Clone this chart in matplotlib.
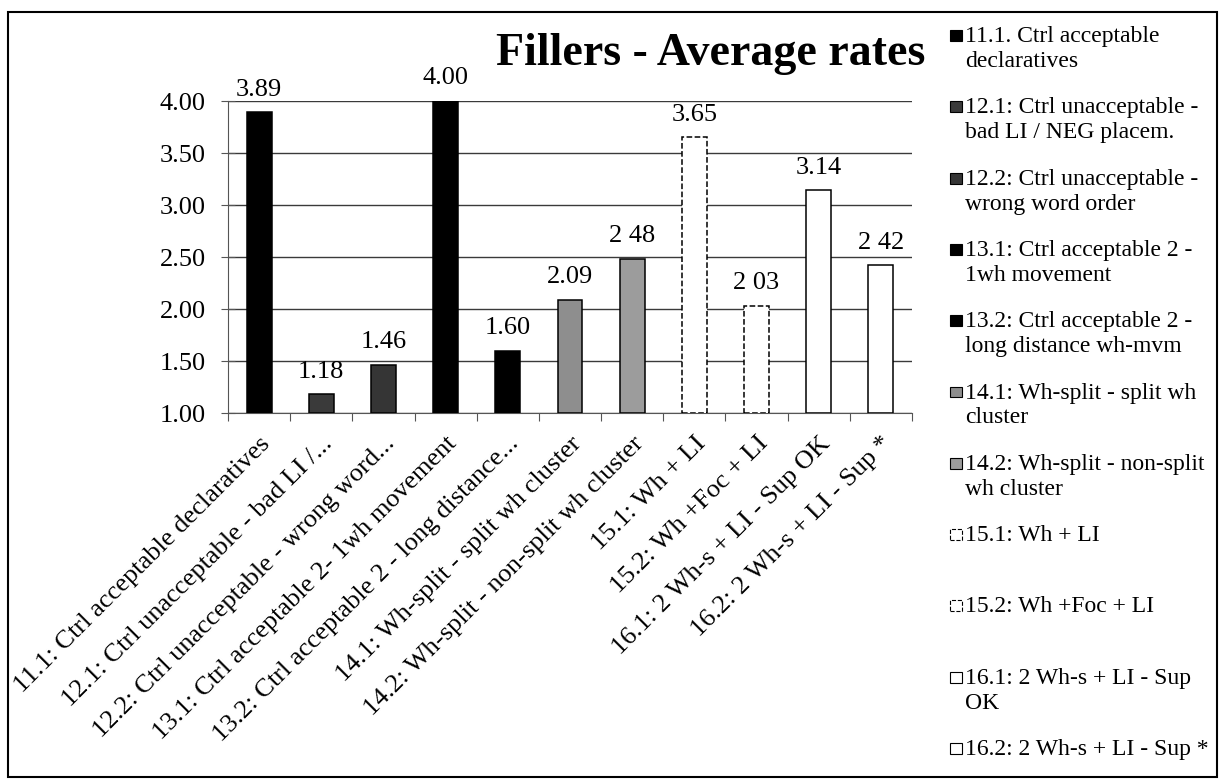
import matplotlib
matplotlib.use("Agg")
import matplotlib.pyplot as plt
from matplotlib.patches import Rectangle

plt.rcParams['font.family'] = ['Liberation Serif', 'DejaVu Serif']

categories = [
    "11.1: Ctrl acceptable declaratives",
    "12.1: Ctrl unacceptable - bad LI /...",
    "12.2: Ctrl unacceptable - wrong word...",
    "13.1: Ctrl acceptable 2- 1wh movement",
    "13.2: Ctrl acceptable 2 - long distance...",
    "14.1: Wh-split - split wh cluster",
    "14.2: Wh-split - non-split wh cluster",
    "15.1: Wh + LI",
    "15.2: Wh +Foc + LI",
    "16.1: 2 Wh-s + LI - Sup OK",
    "16.2: 2 Wh-s + LI - Sup *",
]
values = [3.89, 1.18, 1.46, 4.00, 1.60, 2.09, 2.48, 3.65, 2.03, 3.14, 2.42]
value_labels = ["3.89", "1.18", "1.46", "4.00", "1.60", "2.09", "2 48", "3.65", "2 03", "3.14", "2 42"]
legend_labels = [
    "11.1. Ctrl acceptable\ndeclaratives",
    "12.1: Ctrl unacceptable -\nbad LI / NEG placem.",
    "12.2: Ctrl unacceptable -\nwrong word order",
    "13.1: Ctrl acceptable 2 -\n1wh movement",
    "13.2: Ctrl acceptable 2 -\nlong distance wh-mvm",
    "14.1: Wh-split - split wh\ncluster",
    "14.2: Wh-split - non-split\nwh cluster",
    "15.1: Wh + LI",
    "15.2: Wh +Foc + LI",
    "16.1: 2 Wh-s + LI - Sup\nOK",
    "16.2: 2 Wh-s + LI - Sup *",
]
yticks = [1.00, 1.50, 2.00, 2.50, 3.00, 3.50, 4.00]

facecolors = ['#000000', '#3a3a3a', '#353535', '#000000', '#000000', '#8e8e8e', '#9c9c9c',
              'white', 'white', 'white', 'white']
linestyles = ['-'] * 7 + ['--', '--', '-', '-']

W, H = 1224, 779
def fx(px):
    return px / W
def fy(py):
    return 1 - py / H

fig = plt.figure(figsize=(W / 100, H / 100), dpi=100)
fig.patches.append(Rectangle((fx(8), fy(777)), fx(1217) - fx(8), fy(12) - fy(777),
                             transform=fig.transFigure, fill=False,
                             edgecolor='black', linewidth=1.5))

ax = fig.add_axes([fx(228), fy(413), fx(912) - fx(228), fy(101) - fy(413)])
x = list(range(len(values)))
bottom = 1.0
bars = ax.bar(x, [v - bottom for v in values], bottom=bottom, width=0.4,
              color=facecolors, edgecolor='black', linewidth=1.1, zorder=3)
for b, ls in zip(bars, linestyles):
    b.set_linestyle(ls)

for xi, v, lab in zip(x, values, value_labels):
    ax.annotate(lab, (xi, v), xytext=(0, 12), textcoords='offset points',
                ha='center', va='baseline', fontsize=19)

ax.set_xlim(-0.5, len(values) - 0.5)
ax.set_ylim(1.0, 4.0)
ax.set_yticks(yticks)
ax.set_yticklabels([f"{t:.2f}" for t in yticks], fontsize=19)
ax.yaxis.grid(True, color='#3a3a3a', linewidth=1.0, zorder=0)
ax.set_axisbelow(True)

ax.set_xticks([i - 0.5 for i in range(len(values) + 1)])
ax.set_xticklabels([])
ax.tick_params(axis='x', which='major', length=6, direction='out', color='#555555')
ax.tick_params(axis='y', length=10, direction='inout', pad=11, color='#555555')
ax.set_xticks(x, minor=True)
ax.set_xticklabels(categories, minor=True, rotation=45, ha='right',
                   rotation_mode='anchor', fontsize=19)
ax.tick_params(axis='x', which='minor', length=0, pad=14)

for s in ['top', 'right']:
    ax.spines[s].set_visible(False)
ax.spines['left'].set_color('#555555')
ax.spines['bottom'].set_color('#555555')

fig.text(fx(711), fy(65), "Fillers - Average rates", fontsize=33, fontweight='bold',
         ha='center', va='baseline')

# legend (manual, Excel-like)
base0 = 42
step = 71.3
line_gap = 25
for i, (lab, fc, ls) in enumerate(zip(legend_labels, facecolors, linestyles)):
    b = base0 + i * step
    fig.patches.append(Rectangle((fx(950), fy(b - 1)), fx(12), fy(0) - fy(11),
                                 transform=fig.transFigure, facecolor=fc,
                                 edgecolor='black', linewidth=0.8, linestyle=ls))
    for j, line in enumerate(lab.split("\n")):
        fig.text(fx(965), fy(b + j * line_gap), line, fontsize=17,
                 ha='left', va='baseline')

fig.savefig("out.png", dpi=100)
